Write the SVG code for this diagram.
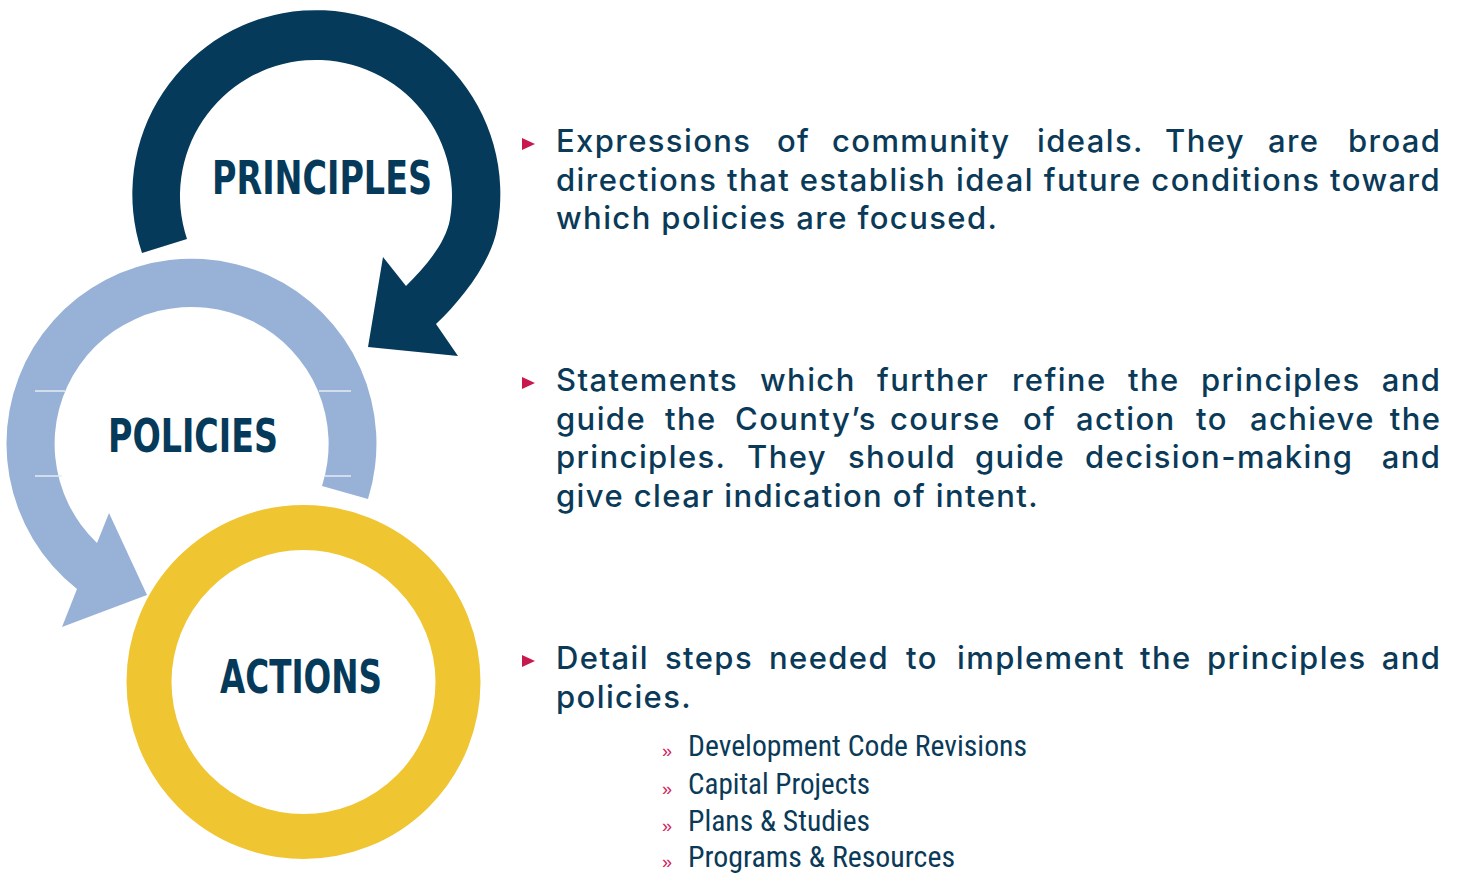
<svg xmlns="http://www.w3.org/2000/svg" width="1458" height="873" viewBox="0 0 1458 873">
<style>
.hd{font-family:"Liberation Sans Narrow","DejaVu Sans Condensed","Roboto Condensed","Liberation Sans",sans-serif;font-weight:bold;font-size:46px;fill:#063a5a}
.bd{font-family:"Inter","Open Sans","Liberation Sans",sans-serif;font-weight:500;font-size:31px;fill:#0a3a58;letter-spacing:1.4px}
.end{text-anchor:end}
.sb{font-family:"Liberation Sans Narrow","Roboto Condensed","Liberation Sans",sans-serif;font-size:29px;fill:#0a3a58}
.rq{font-family:"Liberation Sans","Arial",sans-serif;font-size:18px;fill:#d0245a}
.tri{fill:#c8194f}
.tick{stroke:#e6edf6;stroke-width:1.5}
</style>
<rect width="1458" height="873" fill="#ffffff"/>
<g id="connectors">
  <path id="arrow-principles" fill="#063a5a" d="M 142 253 A 184 184 0 1 1 497.2 228 C 491.1 262.5 461.5 300 436 324 L 458 356 L 368 347 L 383 257 L 406 286 C 423.7 268.3 445.6 244.2 449.9 219.6 A 136 136 0 1 0 187 239 Z"/>
  <path id="arrow-policies" fill="#98b2d7" d="M 368 499 A 185 185 0 1 0 77 589 L 62 627 L 147 595 L 109 513 L 97 543 A 137 137 0 1 1 322 486 Z"/>
  <g id="ticks">
    <line class="tick" x1="35" y1="391" x2="65" y2="391"/>
    <line class="tick" x1="35" y1="476" x2="62" y2="476"/>
    <line class="tick" x1="319" y1="391" x2="351" y2="391"/>
    <line class="tick" x1="325" y1="476" x2="351" y2="476"/>
  </g>
</g>
<g id="node-actions">
  <circle cx="303.5" cy="682" r="154.5" fill="none" stroke="#f0c532" stroke-width="45"/>
  <text class="hd" x="220" y="693" textLength="162" lengthAdjust="spacingAndGlyphs">ACTIONS</text>
</g>
<g id="node-principles">
  <text class="hd" x="212" y="194" textLength="220" lengthAdjust="spacingAndGlyphs">PRINCIPLES</text>
</g>
<g id="node-policies">
  <text class="hd" x="108" y="452" textLength="170" lengthAdjust="spacingAndGlyphs">POLICIES</text>
</g>
<g id="desc-principles">
  <polygon class="tri" points="522,138 535,144 522,150"/>
  <text class="bd" y="152"><tspan x="556">Expressions</tspan><tspan x="777">of</tspan><tspan x="832">community</tspan><tspan x="1037">ideals.</tspan><tspan x="1165">They</tspan><tspan x="1268">are</tspan></text>
  <text class="bd end" x="1441.4" y="152">broad</text>
  <text class="bd" x="556" y="190.5" textLength="885" lengthAdjust="spacing">directions that establish ideal future conditions toward</text>
  <text class="bd" x="556" y="229">which policies are focused.</text>
</g>
<g id="desc-policies">
  <polygon class="tri" points="522,377 535,383 522,389"/>
  <text class="bd" y="391"><tspan x="556">Statements</tspan><tspan x="760">which</tspan><tspan x="877">further</tspan><tspan x="1012">refine</tspan><tspan x="1128">the</tspan><tspan x="1201">principles</tspan></text>
  <text class="bd end" x="1441.4" y="391">and</text>
  <text class="bd" y="429.5"><tspan x="556">guide</tspan><tspan x="665">the</tspan><tspan x="735">County’s</tspan><tspan x="890">course</tspan><tspan x="1023">of</tspan><tspan x="1076">action</tspan><tspan x="1196">to</tspan><tspan x="1250">achieve</tspan></text>
  <text class="bd end" x="1441.4" y="429.5">the</text>
  <text class="bd" y="468"><tspan x="556">principles.</tspan><tspan x="747">They</tspan><tspan x="848">should</tspan><tspan x="975">guide</tspan><tspan x="1085">decision-making</tspan></text>
  <text class="bd end" x="1441.4" y="468">and</text>
  <text class="bd" x="556" y="506.5">give clear indication of intent.</text>
</g>
<g id="desc-actions">
  <polygon class="tri" points="522,655 535,661 522,667"/>
  <text class="bd" y="669"><tspan x="556">Detail</tspan><tspan x="665">steps</tspan><tspan x="769">needed</tspan><tspan x="906">to</tspan><tspan x="957">implement</tspan><tspan x="1140">the</tspan><tspan x="1207">principles</tspan></text>
  <text class="bd end" x="1441.4" y="669">and</text>
  <text class="bd" x="556" y="707.5">policies.</text>
  <text class="rq" x="662" y="757">»</text>
  <text class="sb" x="688" y="756" textLength="339" lengthAdjust="spacingAndGlyphs">Development Code Revisions</text>
  <text class="rq" x="662" y="795">»</text>
  <text class="sb" x="688" y="794" textLength="182" lengthAdjust="spacingAndGlyphs">Capital Projects</text>
  <text class="rq" x="662" y="832">»</text>
  <text class="sb" x="688" y="831" textLength="182" lengthAdjust="spacingAndGlyphs">Plans &amp; Studies</text>
  <text class="rq" x="662" y="868">»</text>
  <text class="sb" x="688" y="867" textLength="267" lengthAdjust="spacingAndGlyphs">Programs &amp; Resources</text>
</g>
</svg>
